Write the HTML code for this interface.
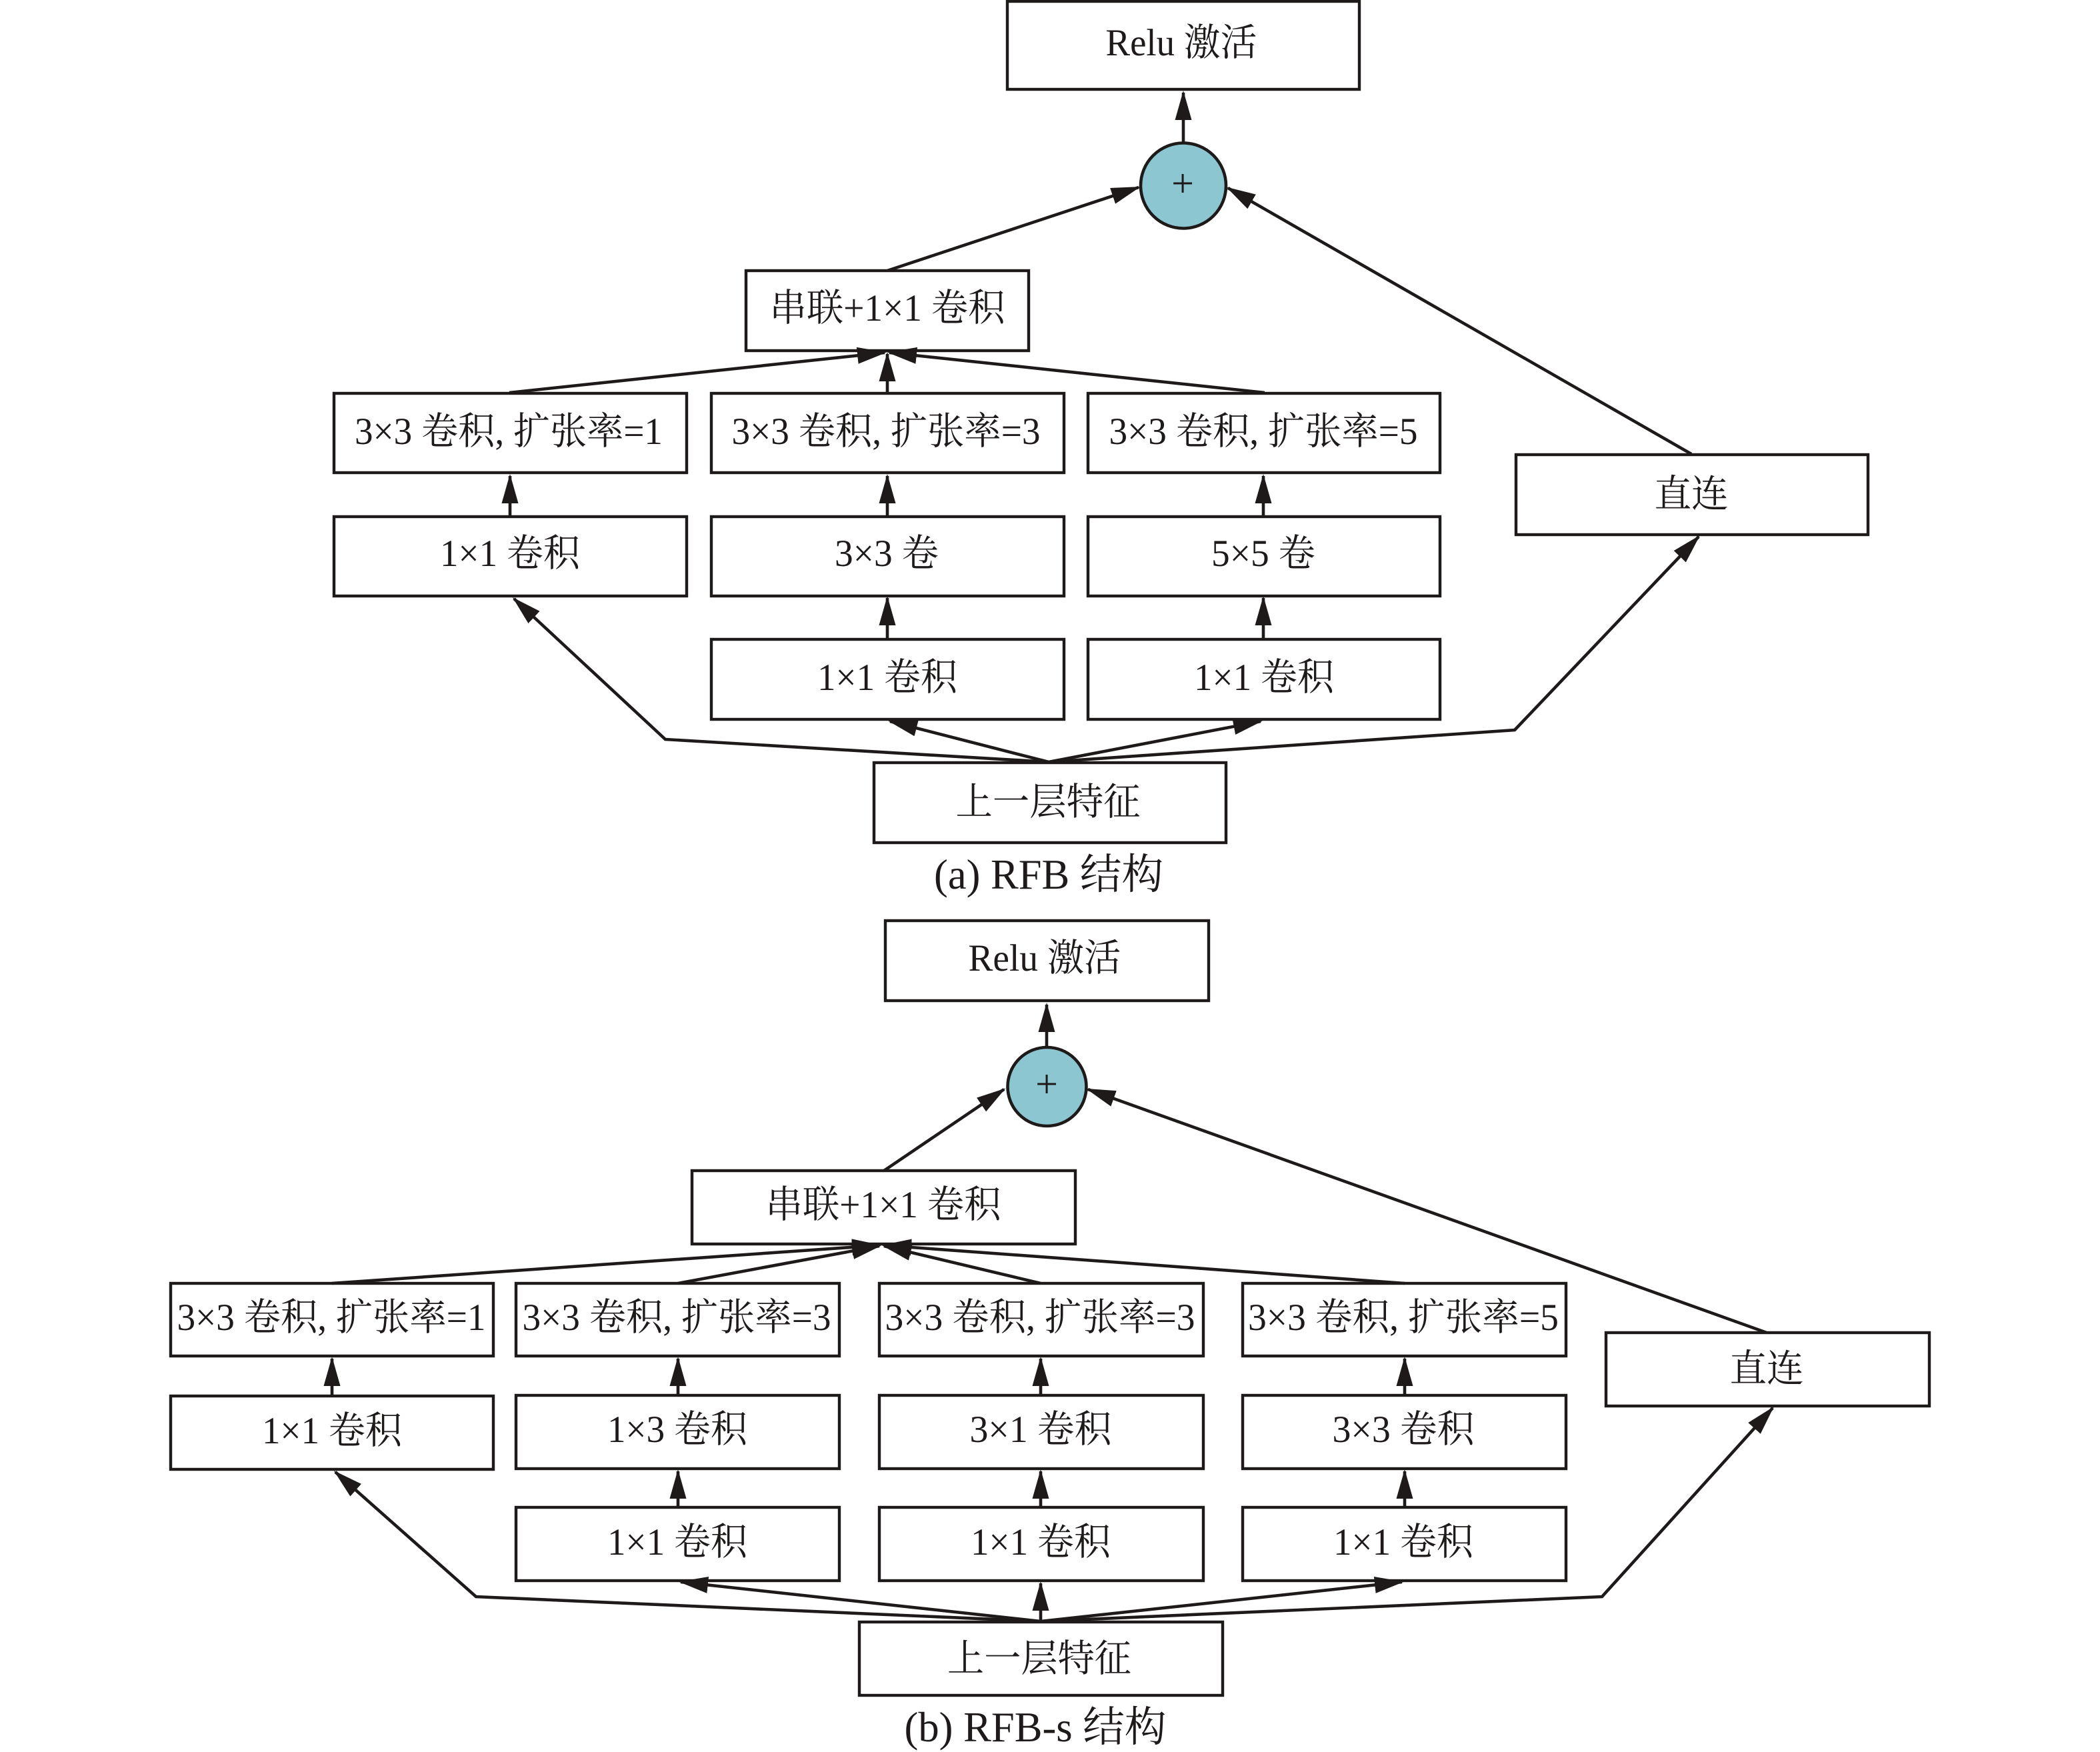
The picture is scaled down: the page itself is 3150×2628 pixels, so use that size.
<!DOCTYPE html>
<html><head><meta charset="utf-8"><style>
html,body{margin:0;padding:0;background:#fff}
svg{display:block}
text{font-family:"Liberation Serif","Noto Serif CJK SC",serif;font-size:57px;fill:#1e1a1a;text-anchor:middle}
.c{font-size:63px}
rect{fill:#fff;stroke:#1e1a1a;stroke-width:4.4}
.l{fill:none;stroke:#1e1a1a;stroke-width:4.6;marker-end:url(#a)}
.p{fill:none;stroke:#1e1a1a;stroke-width:4.6;stroke-linejoin:miter;marker-end:url(#a)}
circle{fill:#8cc7d1;stroke:#1e1a1a;stroke-width:4.6}
</style></head><body>
<svg xmlns="http://www.w3.org/2000/svg" width="3150" height="2628" viewBox="0 0 3150 2628">
<defs><marker id="a" markerUnits="userSpaceOnUse" markerWidth="50" markerHeight="30" refX="41" refY="12.5" orient="auto"><path d="M0,0L44,12.5L0,25Z" fill="#1e1a1a"/></marker></defs>
<rect width="3150" height="2628" style="fill:#fff;stroke:none"/>

<!-- (a) boxes -->
<rect x="1511" y="2" width="528" height="132"/>
<rect x="1119" y="406" width="424" height="120"/>
<rect x="501" y="590" width="529" height="119"/>
<rect x="1067" y="590" width="529" height="119"/>
<rect x="1632" y="590" width="528" height="119"/>
<rect x="501" y="775" width="529" height="119"/>
<rect x="1067" y="775" width="529" height="119"/>
<rect x="1632" y="775" width="528" height="119"/>
<rect x="1067" y="959" width="529" height="120"/>
<rect x="1632" y="959" width="528" height="120"/>
<rect x="2274" y="682" width="528" height="120"/>
<rect x="1311" y="1144" width="528" height="120"/>
<circle cx="1775" cy="278.5" r="64"/>

<!-- (a) arrows -->
<path class="l" d="M1775,215V139"/>
<path class="l" d="M1331,406L1708,281"/>
<path class="l" d="M2537,681L1842,282"/>
<path class="l" d="M764,589L1327,529"/>
<path class="l" d="M1331,589V531"/>
<path class="l" d="M1897,589L1334,529"/>
<path class="l" d="M765,775V714"/>
<path class="l" d="M1331,775V714"/>
<path class="l" d="M1895,775V714"/>
<path class="l" d="M1331,959V897"/>
<path class="l" d="M1895,959V897"/>
<path class="p" d="M1573,1143L998,1109L771,898"/>
<path class="l" d="M1573,1143L1335,1082"/>
<path class="l" d="M1573,1143L1891,1082"/>
<path class="p" d="M1573,1143L2272,1095L2548,805"/>

<!-- (a) text -->
<text x="1772" y="83" textLength="227" lengthAdjust="spacingAndGlyphs">Relu 激活</text>
<text x="1774" y="295" style="font-size:60px">+</text>
<text x="1331" y="481" textLength="353" lengthAdjust="spacingAndGlyphs">串联+1×1 卷积</text>
<text x="763" y="666" textLength="462" lengthAdjust="spacingAndGlyphs">3×3 卷积, 扩张率=1</text>
<text x="1329" y="666" textLength="463" lengthAdjust="spacingAndGlyphs">3×3 卷积, 扩张率=3</text>
<text x="1895" y="666" textLength="463" lengthAdjust="spacingAndGlyphs">3×3 卷积, 扩张率=5</text>
<text x="765" y="849" textLength="210" lengthAdjust="spacingAndGlyphs">1×1 卷积</text>
<text x="1330" y="849" textLength="156" lengthAdjust="spacingAndGlyphs">3×3 卷</text>
<text x="1895" y="849" textLength="156" lengthAdjust="spacingAndGlyphs">5×5 卷</text>
<text x="1331" y="1035" textLength="210" lengthAdjust="spacingAndGlyphs">1×1 卷积</text>
<text x="1896" y="1035" textLength="210" lengthAdjust="spacingAndGlyphs">1×1 卷积</text>
<text x="2537" y="760" textLength="111" lengthAdjust="spacingAndGlyphs">直连</text>
<text x="1572" y="1222" textLength="277" lengthAdjust="spacingAndGlyphs">上一层特征</text>
<text class="c" x="1573" y="1333" textLength="344" lengthAdjust="spacingAndGlyphs">(a) RFB 结构</text>

<!-- (b) boxes -->
<rect x="1328" y="1381" width="485" height="120"/>
<rect x="1038" y="1756" width="575" height="110"/>
<rect x="256" y="1925" width="484" height="109"/>
<rect x="774" y="1925" width="485" height="109"/>
<rect x="1319" y="1925" width="486" height="109"/>
<rect x="1864" y="1925" width="485" height="109"/>
<rect x="256" y="2094" width="484" height="110"/>
<rect x="774" y="2093" width="485" height="110"/>
<rect x="1319" y="2093" width="486" height="110"/>
<rect x="1864" y="2093" width="485" height="110"/>
<rect x="774" y="2261" width="485" height="110"/>
<rect x="1319" y="2261" width="486" height="110"/>
<rect x="1864" y="2261" width="485" height="110"/>
<rect x="2409" y="1999" width="485" height="110"/>
<rect x="1289" y="2433" width="545" height="110"/>
<circle cx="1570.5" cy="1630" r="59"/>

<!-- (b) arrows -->
<path class="l" d="M1570,1571V1507"/>
<path class="l" d="M1326,1756L1506,1634"/>
<path class="l" d="M2650,1999L1632,1634"/>
<path class="l" d="M498,1925L1319,1868"/>
<path class="l" d="M1017,1925L1319,1869"/>
<path class="l" d="M1561,1925L1326,1869"/>
<path class="l" d="M2107,1925L1326,1868"/>
<path class="l" d="M498,2094V2038"/>
<path class="l" d="M1017,2093V2038"/>
<path class="l" d="M1561,2093V2038"/>
<path class="l" d="M2107,2093V2038"/>
<path class="l" d="M1017,2261V2207"/>
<path class="l" d="M1561,2261V2207"/>
<path class="l" d="M2107,2261V2207"/>
<path class="p" d="M1561,2432L714,2395L503,2208"/>
<path class="l" d="M1561,2432L1021,2373"/>
<path class="l" d="M1561,2432V2375"/>
<path class="l" d="M1561,2432L2103,2373"/>
<path class="p" d="M1561,2432L2403,2395L2659,2112"/>

<!-- (b) text -->
<text x="1567" y="1456" textLength="229" lengthAdjust="spacingAndGlyphs">Relu 激活</text>
<text x="1570" y="1646" style="font-size:60px">+</text>
<text x="1325" y="1826" textLength="353" lengthAdjust="spacingAndGlyphs">串联+1×1 卷积</text>
<text x="497" y="1995" textLength="463" lengthAdjust="spacingAndGlyphs">3×3 卷积, 扩张率=1</text>
<text x="1015" y="1995" textLength="463" lengthAdjust="spacingAndGlyphs">3×3 卷积, 扩张率=3</text>
<text x="1560" y="1995" textLength="465" lengthAdjust="spacingAndGlyphs">3×3 卷积, 扩张率=3</text>
<text x="2105" y="1995" textLength="466" lengthAdjust="spacingAndGlyphs">3×3 卷积, 扩张率=5</text>
<text x="498" y="2165" textLength="210" lengthAdjust="spacingAndGlyphs">1×1 卷积</text>
<text x="1016" y="2163" textLength="210" lengthAdjust="spacingAndGlyphs">1×3 卷积</text>
<text x="1561" y="2163" textLength="213" lengthAdjust="spacingAndGlyphs">3×1 卷积</text>
<text x="2105" y="2163" textLength="213" lengthAdjust="spacingAndGlyphs">3×3 卷积</text>
<text x="1016" y="2332" textLength="210" lengthAdjust="spacingAndGlyphs">1×1 卷积</text>
<text x="1561" y="2332" textLength="210" lengthAdjust="spacingAndGlyphs">1×1 卷积</text>
<text x="2105" y="2332" textLength="210" lengthAdjust="spacingAndGlyphs">1×1 卷积</text>
<text x="2650" y="2072" textLength="111" lengthAdjust="spacingAndGlyphs">直连</text>
<text x="1559" y="2507" textLength="276" lengthAdjust="spacingAndGlyphs">上一层特征</text>
<text class="c" x="1553" y="2612" textLength="393" lengthAdjust="spacingAndGlyphs">(b) RFB-s 结构</text>
</svg>
</body></html>
